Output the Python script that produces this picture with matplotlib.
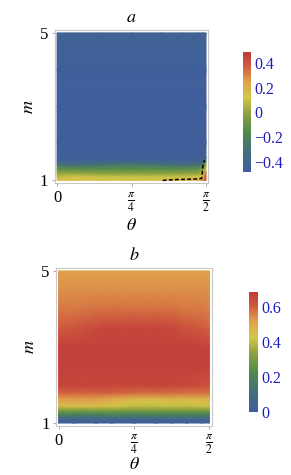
import matplotlib
matplotlib.use("Agg")
import matplotlib.pyplot as plt
import numpy as np
from matplotlib.colors import LinearSegmentedColormap

plt.rcParams['font.family'] = ['Liberation Serif', 'DejaVu Serif']
plt.rcParams['mathtext.fontset'] = 'stix'

# --- data ---
# panel a: theta as a fraction of pi/2, m values, value table (rows = m)
theta_a = [0, 0.1, 0.3, 0.5, 0.7, 0.85, 0.95, 0.98, 1.0]
m_a = [1.0, 1.1, 1.2, 1.3, 1.4, 1.5, 1.6, 2.0, 3.0, 4.0, 5.0]
z_a = [
    [0.15, 0.15, 0.13, 0.12, 0.14, 0.16, 0.18, 0.30, 0.46],
    [0.08, 0.12, 0.10, 0.10, 0.10, 0.10, 0.12, 0.20, 0.42],
    [0.00, 0.00, -0.02, -0.02, -0.02, -0.02, 0.00, 0.10, 0.35],
    [-0.10, -0.12, -0.12, -0.12, -0.12, -0.12, -0.10, 0.00, 0.10],
    [-0.25, -0.28, -0.25, -0.22, -0.25, -0.28, -0.25, -0.20, 0.05],
    [-0.38, -0.40, -0.38, -0.36, -0.38, -0.40, -0.38, -0.35, -0.15],
    [-0.45, -0.45, -0.45, -0.45, -0.45, -0.45, -0.45, -0.44, -0.35],
    [-0.45, -0.45, -0.45, -0.45, -0.45, -0.45, -0.45, -0.45, -0.44],
    [-0.46, -0.46, -0.46, -0.46, -0.46, -0.46, -0.46, -0.46, -0.44],
    [-0.45, -0.45, -0.45, -0.45, -0.45, -0.45, -0.45, -0.45, -0.44],
    [-0.42, -0.42, -0.42, -0.42, -0.42, -0.42, -0.42, -0.42, -0.42],
]
# dashed boundary in panel a
bound_theta = [0.71, 0.78, 0.86, 0.94, 0.97, 0.975, 0.98, 0.99]
bound_m = [1.0, 1.02, 1.03, 1.04, 1.05, 1.2, 1.4, 1.55]

# panel b
theta_b = [0, 0.1, 0.25, 0.35, 0.5, 0.65, 0.75, 0.85, 0.95, 1.0]
m_b = [1.0, 1.08, 1.15, 1.25, 1.35, 1.45, 1.55, 1.65, 1.8, 2.0, 2.5, 3.0, 3.5, 4.0, 4.5, 5.0]
z_b = [
    [0.02] * 10,
    [0.05] * 10,
    [0.12, 0.10, 0.10, 0.12, 0.12, 0.12, 0.12, 0.12, 0.12, 0.12],
    [0.22] * 10,
    [0.33] * 10,
    [0.45, 0.45, 0.45, 0.43, 0.40, 0.40, 0.41, 0.40, 0.41, 0.42],
    [0.50, 0.50, 0.50, 0.47, 0.43, 0.43, 0.45, 0.43, 0.45, 0.46],
    [0.53, 0.53, 0.53, 0.51, 0.48, 0.48, 0.49, 0.48, 0.49, 0.50],
    [0.60, 0.60, 0.60, 0.60, 0.59, 0.59, 0.59, 0.58, 0.58, 0.58],
    [0.66, 0.66, 0.66, 0.66, 0.66, 0.66, 0.66, 0.65, 0.64, 0.63],
    [0.67] * 10,
    [0.67] * 10,
    [0.61, 0.62, 0.65, 0.66, 0.66, 0.66, 0.65, 0.63, 0.61, 0.60],
    [0.57, 0.57, 0.58, 0.58, 0.58, 0.58, 0.58, 0.57, 0.57, 0.56],
    [0.54] * 10,
    [0.52] * 10,
]

theta_ticks = [0, 0.5, 1.0]
theta_labels = ['0', r'$\frac{\pi}{4}$', r'$\frac{\pi}{2}$']
cbar_a_ticks = [-0.4, -0.2, 0, 0.2, 0.4]
cbar_a_labels = ['\u22120.4', '\u22120.2', '0', '0.2', '0.4']
cbar_b_ticks = [0, 0.2, 0.4, 0.6]

cmap = LinearSegmentedColormap.from_list('darkrainbow', [
    (0.0, '#3f5ca0'), (0.18, '#46707a'), (0.33, '#4f8a4c'), (0.48, '#88a040'),
    (0.62, '#d4c64a'), (0.75, '#e0a24c'), (0.88, '#d05c3e'), (1.0, '#c0383a')])

fig = plt.figure(figsize=(2.91, 4.75), dpi=100)
frame_col = '#c8c8c8'


def panel(rect, theta, m, z, vmin, vmax, title, ypad, xlab_y):
    ax = fig.add_axes(rect)
    th = np.array(theta) * np.pi / 2
    T, M = np.meshgrid(th, m)
    mesh = ax.pcolormesh(T, M, np.array(z), cmap=cmap, vmin=vmin, vmax=vmax,
                         shading='gouraud', rasterized=True)
    ax.set_xlim(-0.022, np.pi / 2 + 0.022)
    ax.set_ylim(1 - ypad, 5 + ypad)
    for s in ax.spines.values():
        s.set_color(frame_col)
        s.set_linewidth(0.8)
    ax.set_xticks(np.array(theta_ticks) * np.pi / 2)
    ax.set_xticklabels(theta_labels, fontsize=12)
    ax.set_yticks([1, 5])
    ax.set_yticklabels(['1', '5'], fontsize=12)
    ax.tick_params(length=2, width=0.6, color='#999999', pad=3)
    ax.set_xlabel(r'$\theta$', fontsize=13, va='center')
    ax.xaxis.set_label_coords(0.5, xlab_y)
    ax.set_ylabel(r'$m$', fontsize=13, labelpad=2)
    ax.set_title(r'$' + title + '$', fontsize=13, pad=6)
    return ax, mesh


ax_a, mesh_a = panel([0.189, 0.614, 0.526, 0.323], theta_a, m_a, z_a,
                     -0.48, 0.49, 'a', 0.08, -0.275)
ax_a.plot(np.array(bound_theta) * np.pi / 2, bound_m, ls=(0, (2.5, 1.5)),
          color='black', lw=1.1)

ax_b, mesh_b = panel([0.194, 0.103, 0.533, 0.333], theta_b, m_b, z_b,
                     0.0, 0.69, 'b', 0.08, -0.24)


def cbar(rect, mesh, ticks, labels):
    cax = fig.add_axes(rect)
    cb = fig.colorbar(mesh, cax=cax)
    cb.outline.set_visible(False)
    cb.set_ticks(ticks)
    cb.set_ticklabels(labels)
    cax.tick_params(length=0, labelsize=11.5, labelcolor='#1c1cc0', pad=2)
    return cb


cbar([0.835, 0.638, 0.028, 0.253], mesh_a, cbar_a_ticks, cbar_a_labels)
cbar([0.856, 0.133, 0.031, 0.253], mesh_b, cbar_b_ticks,
     [str(t) if t else '0' for t in cbar_b_ticks])

fig.savefig('out.png', dpi=100)
